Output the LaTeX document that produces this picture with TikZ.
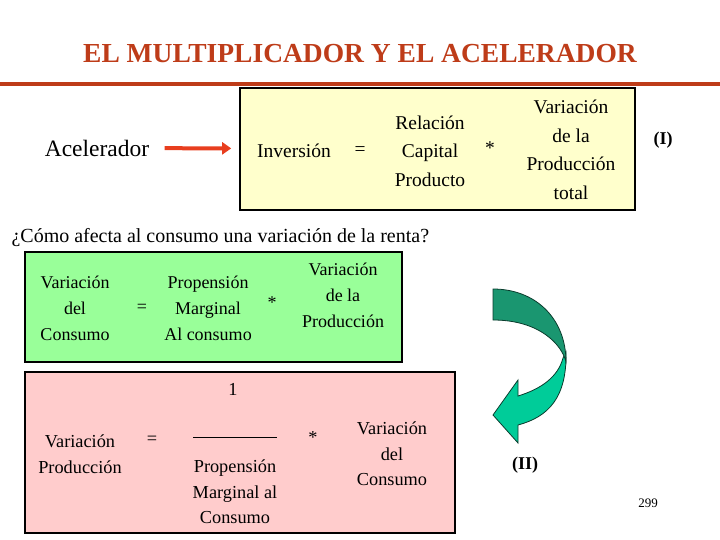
\documentclass[tikz,border=0pt]{standalone}
\usepackage{fontspec}
\setmainfont{Liberation Serif}
\usetikzlibrary{arrows.meta}
\definecolor{titlered}{RGB}{190,60,25}
\definecolor{arrowred}{RGB}{232,62,30}
\definecolor{boxyellow}{RGB}{255,255,204}
\definecolor{boxgreen}{RGB}{153,255,153}
\definecolor{boxpink}{RGB}{255,204,204}
\definecolor{darkteal}{RGB}{26,150,112}
\definecolor{lightteal}{RGB}{0,204,153}

\begin{document}
\begin{tikzpicture}[x=1pt,y=-1pt,
  eqbox/.style={draw=black, line width=1.6pt, inner sep=0pt},
  yterm/.style={align=center, font=\fontsize{19.5}{28.5}\selectfont},
  gterm/.style={align=center, font=\fontsize{18}{26}\selectfont},
  pterm/.style={align=center, font=\fontsize{18.3}{25.5}\selectfont}]
\useasboundingbox (0,0) rectangle (720,540);

% title and rule
\node[text=titlered, font=\bfseries\fontsize{27.5}{30}\selectfont] (ttl) at (360,54) {EL MULTIPLICADOR Y EL ACELERADOR};
\draw[titlered, line width=4pt] (0,84) -- (720,84);

% acelerador
\node[eqbox, fill=boxyellow, minimum width=395, minimum height=122] (ybox) at (437.5,149) {};
\node[font=\fontsize{23.5}{26}\selectfont] (acel) at (97,148) {Acelerador};
\node[yterm] (inv) at (294,151) {Inversión};
\node[yterm] (eq1) at (360,151) {=};
\node[yterm] (rel) at (430,151) {Relación\\ Capital\\ Producto};
\node[yterm] (times1) at (490,148) {*};
\node[yterm] (varprod) at (571,150) {Variación\\ de la\\ Producción\\ total};
\node[font=\bfseries\fontsize{18}{20}\selectfont] (numI) at (663,140) {(I)};
\draw[arrowred, line width=4pt, -{Triangle[length=9pt,width=12pt]}, shorten <=12pt, shorten >=8pt] (acel) -- (ybox);

% multiplicador
\node[anchor=west, font=\fontsize{20}{22}\selectfont] (quest) at (8,238) {¿Cómo afecta al consumo una variación de la renta?};

\node[eqbox, fill=boxgreen, minimum width=377, minimum height=110] (gbox) at (213.5,307) {};
\node[gterm] (varcons) at (75,308) {Variación\\ del\\ Consumo};
\node[gterm] (eq2) at (142,308) {=};
\node[gterm] (pmc) at (208,308) {Propensión\\ Marginal\\ Al consumo};
\node[gterm] (times2) at (272,303) {*};
\node[gterm] (varprod2) at (343,295) {Variación\\ de la\\ Producción};

\node[eqbox, fill=boxpink, minimum width=430, minimum height=161] (pbox) at (240,452.5) {};
\node[pterm] (one) at (233,389) {1};
\node[pterm] (varprod3) at (80,454) {Variación\\ Producción};
\node[pterm] (eq3) at (152,440) {=};
\coordinate (fracl) at (193,437);
\coordinate (fracr) at (277,437);
\draw[line width=0.8pt] (fracl) -- (fracr);
\node[pterm] (times3) at (313,438) {*};
\node[pterm] (pmc2) at (235,492) {Propensión\\ Marginal al\\ Consumo};
\node[pterm] (varcons2) at (392,454) {Variación\\ del\\ Consumo};

% curved arrow
\filldraw[fill=lightteal, draw=black!60!darkteal, line width=0.8pt]
  (566,352) .. controls (567,398) and (548,417) .. (518,425) -- (518,443) -- (493,415) -- (518,380) -- (518,396)
  .. controls (541,389) and (558,377) .. (563,358) -- cycle;
\filldraw[fill=darkteal, draw=black!60!darkteal, line width=0.8pt]
  (493,289) .. controls (535,289) and (566,318) .. (566,362)
  .. controls (562,345) and (540,320) .. (493,320) -- cycle;
\node[font=\bfseries\fontsize{18}{20}\selectfont] (numII) at (525,465) {(II)};

\node[font=\fontsize{13}{15}\selectfont] (page) at (648,503) {299};
\end{tikzpicture}
\end{document}
